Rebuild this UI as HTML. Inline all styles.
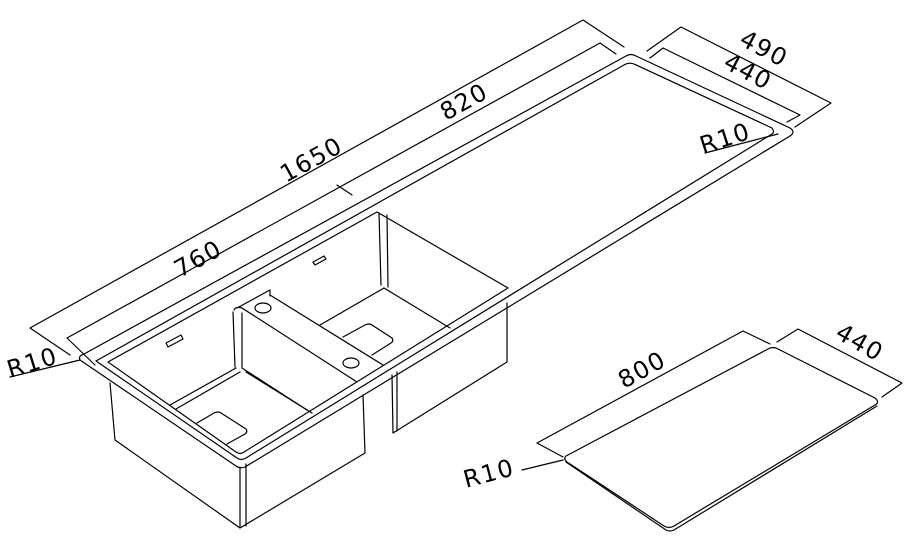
<!DOCTYPE html>
<html><head><meta charset="utf-8"><style>
html,body{margin:0;padding:0;background:#fff;}
svg{display:block;}
text{font-family:"DejaVu Sans","Liberation Sans",sans-serif;font-size:24px;letter-spacing:1.5px;fill:#000;}
</style></head><body>
<svg width="918" height="548" viewBox="0 0 918 548" xmlns="http://www.w3.org/2000/svg">
<g fill="none" stroke="#000" stroke-width="1.2" stroke-linejoin="round" stroke-linecap="round">
<polyline points="70,355 30,328 583,20 624,47"/>
<polyline points="95,365 67,338 600,43 616,54"/>
<line x1="337" y1="185" x2="352" y2="195"/>
<polyline points="647,51 681,27 831,103 795,127"/>
<polyline points="650,58 663,48 800,115 787,122"/>
<path d="M80,360 Q78,356 84,354 L626,56 Q631,53 636,56 L790,128 Q796,132 790,136 L245,467 Q240,469 236,466 Z"/>
<path d="M96,361 L624,65 Q629,62 634,64 L772,128 Q775,132 772,134 L246,458 Q241,461 237,458 Z"/>
<path d="M108,362 L377,212 L508,288 L244,452 Q240,455 236,452 Z"/>
<polyline points="110,383 115,440 240,528 365,453 363,395"/>
<line x1="240" y1="467" x2="240" y2="528"/>
<line x1="246" y1="464" x2="246" y2="526"/>
<polyline points="392,375 393,433 507,362 507,303"/>
<line x1="397" y1="372" x2="397" y2="431"/>
<line x1="379" y1="213" x2="381" y2="285"/>
<line x1="387" y1="215" x2="388" y2="287"/>
<line x1="384" y1="288" x2="320" y2="325"/>
<line x1="384" y1="288" x2="450" y2="328"/>
<path d="M343,337 L365,325 Q369,323 372,325 L392,338 Q394,341 391,343 L372,355"/>
<line x1="233" y1="312" x2="235" y2="367"/>
<line x1="242" y1="313" x2="242" y2="368"/>
<path d="M234,310 Q236,306 242,308 L357,382"/>
<line x1="237" y1="308" x2="270" y2="290"/>
<line x1="270" y1="290" x2="270" y2="296"/>
<line x1="270" y1="295" x2="383" y2="365"/>
<ellipse cx="263" cy="308" rx="8" ry="5"/>
<ellipse cx="351" cy="363" rx="8" ry="5"/>
<line x1="236" y1="368" x2="170" y2="405"/>
<line x1="240" y1="372" x2="176" y2="409"/>
<line x1="242" y1="368" x2="307" y2="410"/>
<line x1="246" y1="372" x2="312" y2="413"/>
<path d="M197,423 L214,413 Q218,411 221,413 L246,429 Q248,432 245,434 L227,444"/>
<path d="M313,262 L324,256 L326,259 L315,265 Z"/>
<path d="M166,343 L181,335 L183,339 L168,347 Z"/>
<line x1="10" y1="377" x2="80" y2="360"/>
<line x1="705" y1="153" x2="778" y2="134"/>
<polyline points="563,457 537,443 743,331 770,344"/>
<polyline points="777,342 798,329 902,383 882,397"/>
<path d="M566,456 L768,349 Q773,346 778,349 L875,398 Q880,402 875,405 L674,526 Q669,529 664,526 L567,462 Q563,459 566,456 Z"/>
<path d="M566,462 L666,530 Q670,532 674,530 L877,406"/>
<line x1="522" y1="470" x2="563" y2="460"/>
</g>
<text transform="translate(286,183) rotate(-29)">1650</text>
<text transform="translate(446,121) rotate(-29)">820</text>
<text transform="translate(180,278) rotate(-29)">760</text>
<text transform="translate(738,44) rotate(28)">490</text>
<text transform="translate(722,67) rotate(28)">440</text>
<text transform="translate(703,154) rotate(-18)">R10</text>
<text transform="translate(10,378) rotate(-17)">R10</text>
<text transform="translate(624,389) rotate(-29)">800</text>
<text transform="translate(834,337) rotate(30)">440</text>
<text transform="translate(466,488) rotate(-15)">R10</text>
</svg>
</body></html>
